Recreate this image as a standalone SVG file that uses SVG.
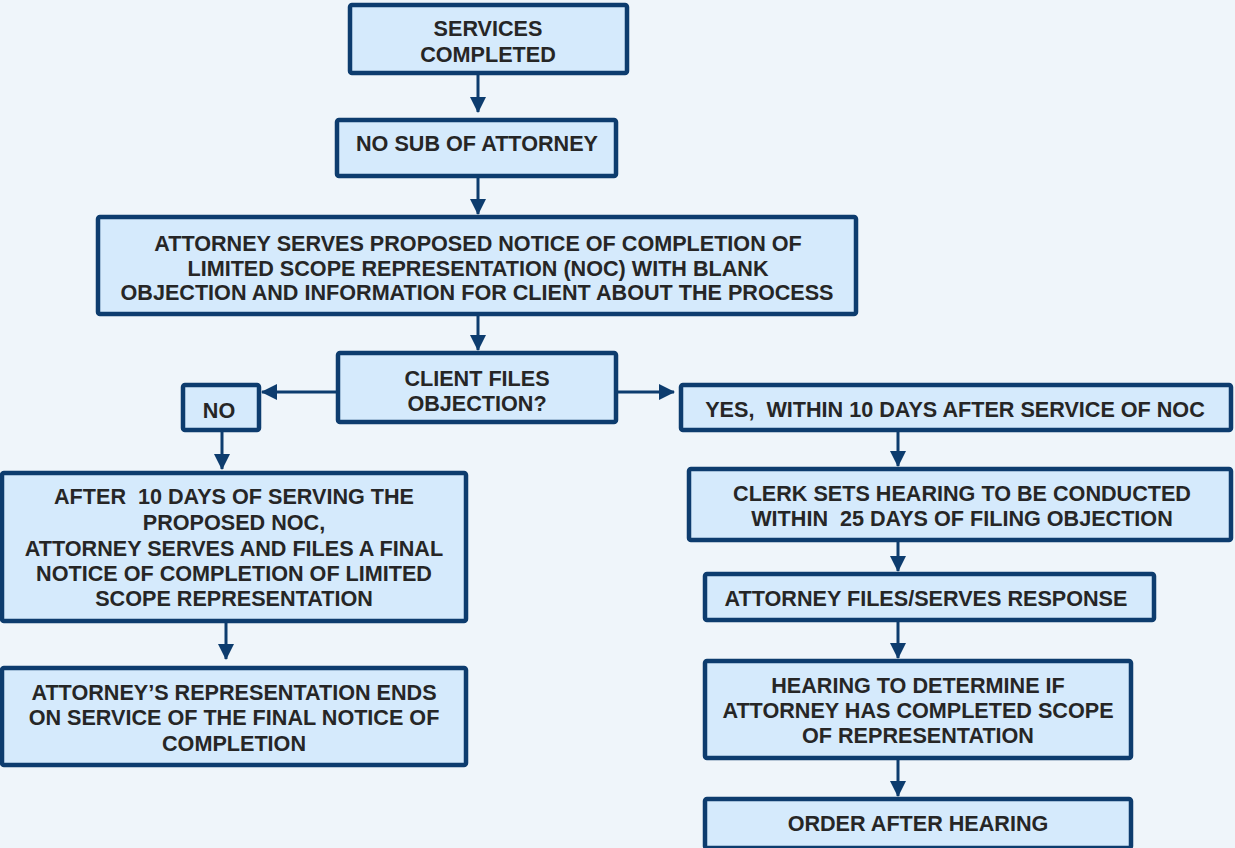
<svg xmlns="http://www.w3.org/2000/svg" width="1235" height="848" viewBox="0 0 1235 848">
<style>
.box{fill:#d5eafc;stroke:#0d3c6e;stroke-width:4.5}
.t{font-family:"Liberation Sans",Arial,sans-serif;font-weight:bold;font-size:21.6px;fill:#262626;text-anchor:middle;dominant-baseline:central}
.c{stroke:#0d3c6e;stroke-width:3;fill:none}
</style>
<defs>
<marker id="ah" markerUnits="userSpaceOnUse" markerWidth="16" markerHeight="16" viewBox="0 0 16 16" refX="15" refY="8" orient="auto">
<path d="M0,0 L16,8 L0,16 Z" fill="#0d3c6e"/>
</marker>
</defs>
<rect width="1235" height="848" fill="#eff5fa"/>
<g id="connectors">
<line class="c" x1="478" y1="75" x2="478" y2="112" marker-end="url(#ah)"/>
<line class="c" x1="478" y1="178" x2="478" y2="214" marker-end="url(#ah)"/>
<line class="c" x1="478" y1="316" x2="478" y2="350" marker-end="url(#ah)"/>
<line class="c" x1="336" y1="392" x2="262" y2="392" marker-end="url(#ah)"/>
<line class="c" x1="618" y1="392" x2="674" y2="392" marker-end="url(#ah)"/>
<line class="c" x1="222" y1="432" x2="222" y2="469" marker-end="url(#ah)"/>
<line class="c" x1="898" y1="432" x2="898" y2="466" marker-end="url(#ah)"/>
<line class="c" x1="226" y1="623" x2="226" y2="659" marker-end="url(#ah)"/>
<line class="c" x1="898" y1="542" x2="898" y2="571" marker-end="url(#ah)"/>
<line class="c" x1="898" y1="622" x2="898" y2="658" marker-end="url(#ah)"/>
<line class="c" x1="898" y1="760" x2="898" y2="796" marker-end="url(#ah)"/>
</g>
<g id="n1"><rect class="box" x="350" y="5" width="277" height="68" rx="2"/>
<text class="t" x="488" y="28">SERVICES</text><text class="t" x="488" y="54">COMPLETED</text></g>
<g id="n2"><rect class="box" x="337" y="120" width="279" height="56" rx="2"/>
<text class="t" x="477" y="143">NO SUB OF ATTORNEY</text></g>
<g id="n3"><rect class="box" x="98" y="217" width="758" height="97" rx="2"/>
<text class="t" x="478" y="243">ATTORNEY SERVES PROPOSED NOTICE OF COMPLETION OF</text>
<text class="t" x="478" y="268">LIMITED SCOPE REPRESENTATION (NOC) WITH BLANK</text>
<text class="t" x="477" y="292">OBJECTION AND INFORMATION FOR CLIENT ABOUT THE PROCESS</text></g>
<g id="n4"><rect class="box" x="338" y="353" width="278" height="69" rx="2"/>
<text class="t" x="477" y="378">CLIENT FILES</text><text class="t" x="477" y="403">OBJECTION?</text></g>
<g id="n5"><rect class="box" x="183" y="385" width="76" height="45" rx="2"/>
<text class="t" x="219" y="410">NO</text></g>
<g id="n6"><rect class="box" x="681" y="385" width="550" height="45" rx="2"/>
<text class="t" x="955" y="409" xml:space="preserve">YES,  WITHIN 10 DAYS AFTER SERVICE OF NOC</text></g>
<g id="n7"><rect class="box" x="2" y="473" width="464" height="148" rx="2"/>
<text class="t" x="234" y="496" xml:space="preserve">AFTER  10 DAYS OF SERVING THE</text>
<text class="t" x="234" y="522">PROPOSED NOC,</text>
<text class="t" x="234" y="548">ATTORNEY SERVES AND FILES A FINAL</text>
<text class="t" x="234" y="573">NOTICE OF COMPLETION OF LIMITED</text>
<text class="t" x="234" y="598">SCOPE REPRESENTATION</text></g>
<g id="n8"><rect class="box" x="2" y="668" width="464" height="97" rx="2"/>
<text class="t" x="234" y="692">ATTORNEY’S REPRESENTATION ENDS</text>
<text class="t" x="234" y="717">ON SERVICE OF THE FINAL NOTICE OF</text>
<text class="t" x="234" y="743">COMPLETION</text></g>
<g id="n9"><rect class="box" x="689" y="469" width="542" height="71" rx="2"/>
<text class="t" x="962" y="493">CLERK SETS HEARING TO BE CONDUCTED</text>
<text class="t" x="962" y="518" xml:space="preserve">WITHIN  25 DAYS OF FILING OBJECTION</text></g>
<g id="n10"><rect class="box" x="705" y="574" width="449" height="46" rx="2"/>
<text class="t" x="926" y="598">ATTORNEY FILES/SERVES RESPONSE</text></g>
<g id="n11"><rect class="box" x="705" y="661" width="426" height="97" rx="2"/>
<text class="t" x="918" y="685">HEARING TO DETERMINE IF</text>
<text class="t" x="918" y="710">ATTORNEY HAS COMPLETED SCOPE</text>
<text class="t" x="918" y="735">OF REPRESENTATION</text></g>
<g id="n12"><rect class="box" x="705" y="799" width="426" height="49" rx="2"/>
<text class="t" x="918" y="823">ORDER AFTER HEARING</text></g>
</svg>
